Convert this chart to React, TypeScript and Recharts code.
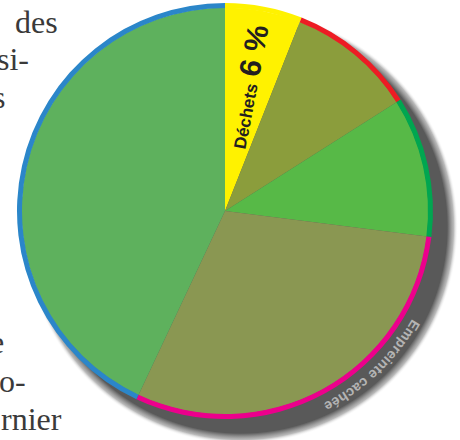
import React from "react";
import { PieChart, Pie, Cell } from "recharts";

// slices, clockwise from 12 o'clock
const categories = ["Déchets", "Part 2", "Part 3", "Part 4", "Part 5"];
const shares = [6, 10, 11, 30, 43];
const fillColors = ["#fff200", "#8b9d3c", "#57b947", "#8a9752", "#5eb15d"];
const rimColors = ["#fff200", "#ed1c24", "#00a650", "#ec008c", "#2b86c9"];

const shadowLabel = "Empreinte cachée";

// fragments of the page text running along the left edge
const sideWords = ["des", "si-", "s", "e", "o-", "rnier"];
const sideWordPos: [number, number][] = [
  [15, 33],
  [-3, 70],
  [-7, 108],
  [-10, 353],
  [-1, 392],
  [1, 430],
];

const CX = 225;
const CY = 211;
const R = 208;
const RIM = 5;
const SHADOW_DX = 16;
const SHADOW_DY = 16;
const SHADOW_R = 217;
const RAD = Math.PI / 180;

const slices = categories.map((name, i) => ({ name, value: shares[i] }));
const shadowData = [{ name: shadowLabel, value: 1 }];

const renderDechets = (props: any) => {
  const { cx, cy, midAngle, index, name, value } = props;
  if (index !== 0) return null;
  const m = midAngle * RAD;
  const x = cx + 64 * Math.cos(m) + 8.5 * Math.sin(m);
  const y = cy - 64 * Math.sin(m) + 8.5 * Math.cos(m);
  return (
    <text
      key="dechets"
      x={x}
      y={y}
      transform={`rotate(${-midAngle}, ${x}, ${y})`}
      fill="#231f20"
      fontWeight="bold"
      fontFamily="'Liberation Sans', Arial, sans-serif"
    >
      <tspan fontSize={17}>{name}</tspan>
      <tspan dx={7} fontSize={30}>
        {`${value} %`}
      </tspan>
    </text>
  );
};

const renderShadowText = (props: any) => {
  const cx = props.cx - SHADOW_DX;
  const cy = props.cy - SHADOW_DY;
  const r = 216;
  const a1 = 16.5 * RAD;
  const a2 = 76.5 * RAD;
  const d = `M ${cx + r * Math.cos(a1)} ${cy + r * Math.sin(a1)} A ${r} ${r} 0 0 1 ${cx + r * Math.cos(a2)} ${cy + r * Math.sin(a2)}`;
  return (
    <g key="shadow-text">
      <path id="shadowArc" d={d} fill="none" stroke="none" />
      <text
        fill="#b4b4b4"
        fontSize={14}
        fontWeight="bold"
        letterSpacing={0.3}
        fontFamily="'Liberation Sans', Arial, sans-serif"
      >
        <textPath href="#shadowArc" startOffset="50%" textAnchor="middle">
          {props.name}
        </textPath>
      </text>
    </g>
  );
};

export default function App() {
  return (
    <div
      style={{
        position: "absolute",
        left: 0,
        top: 0,
        width: 460,
        height: 440,
        overflow: "hidden",
        background: "#fff",
      }}
    >
      <svg width={460} height={440} style={{ position: "absolute", left: 0, top: 0 }}>
        {sideWords.map((w, i) => (
          <text
            key={w + i}
            x={sideWordPos[i][0]}
            y={sideWordPos[i][1]}
            fontSize={32}
            fontFamily="'Liberation Serif', serif"
            fill="#3a3a3a"
          >
            {w}
          </text>
        ))}
      </svg>
      <div style={{ position: "absolute", left: 0, top: 0 }}>
        <PieChart width={460} height={440} margin={{ top: 0, right: 0, bottom: 0, left: 0 }}>
          <defs>
            <radialGradient id="shadowGrad">
              <stop offset="0.95" stopColor="#595959" />
              <stop offset="0.98" stopColor="#8c8c8c" stopOpacity={0.6} />
              <stop offset="1" stopColor="#ffffff" stopOpacity={0} />
            </radialGradient>
          </defs>
          <Pie
            data={shadowData}
            dataKey="value"
            cx={CX + SHADOW_DX}
            cy={CY + SHADOW_DY}
            outerRadius={SHADOW_R}
            fill="url(#shadowGrad)"
            stroke="none"
            label={renderShadowText}
            labelLine={false}
            isAnimationActive={false}
          />
          <Pie
            data={slices}
            dataKey="value"
            cx={CX}
            cy={CY}
            outerRadius={R - RIM + 0.5}
            startAngle={90}
            endAngle={-270}
            stroke="none"
            label={renderDechets}
            labelLine={false}
            isAnimationActive={false}
          >
            {slices.map((s, i) => (
              <Cell key={s.name} fill={fillColors[i]} />
            ))}
          </Pie>
          <Pie
            data={slices}
            dataKey="value"
            cx={CX}
            cy={CY}
            innerRadius={R - RIM}
            outerRadius={R}
            startAngle={90}
            endAngle={-270}
            stroke="none"
            isAnimationActive={false}
          >
            {slices.map((s, i) => (
              <Cell key={s.name} fill={rimColors[i]} />
            ))}
          </Pie>
        </PieChart>
      </div>
    </div>
  );
}
